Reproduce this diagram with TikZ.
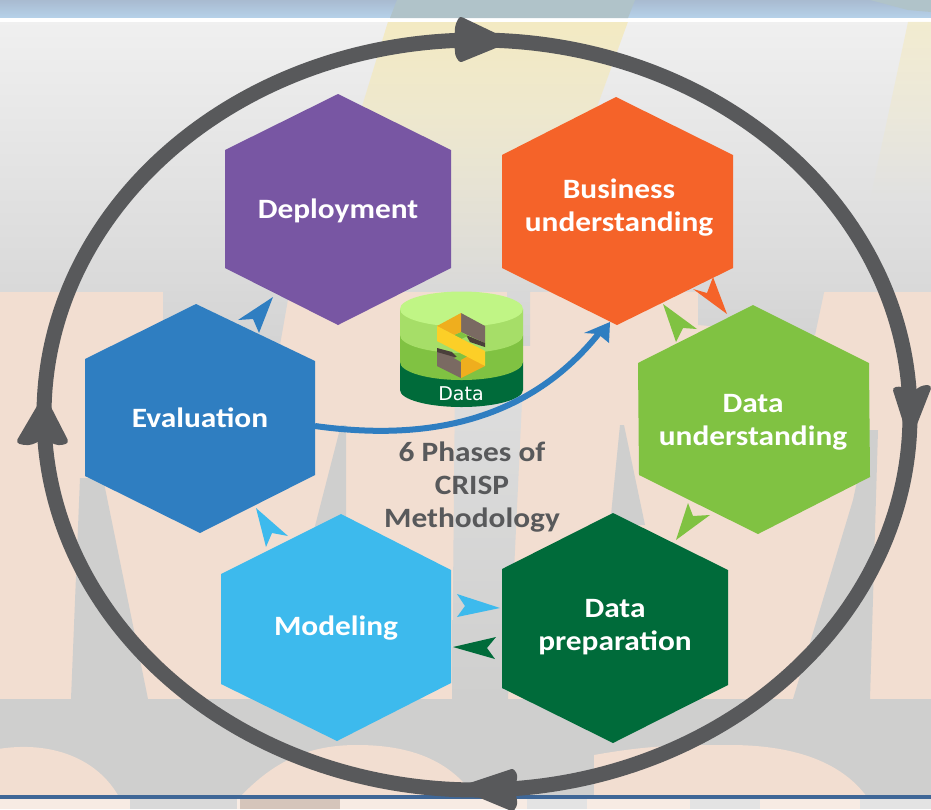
\documentclass[tikz,border=0pt]{standalone}
\usepackage{fontspec}
\setmainfont[FakeStretch=1.12]{Carlito}
\newfontfamily\dbfont{DejaVu Sans}
\usetikzlibrary{fadings}
\definecolor{peach}{HTML}{F2DED1}
\definecolor{bandgray}{HTML}{CFCFCE}
\definecolor{ringgray}{HTML}{58595B}
\definecolor{cDeploy}{HTML}{7856A3}
\definecolor{cBiz}{HTML}{F56329}
\definecolor{cData}{HTML}{80C242}
\definecolor{cPrep}{HTML}{006B3A}
\definecolor{cModel}{HTML}{3DBAED}
\definecolor{cEval}{HTML}{2F7EC1}
\definecolor{cLine}{HTML}{3F6797}
\definecolor{dbTop}{HTML}{C0F585}
\definecolor{dbBand}{HTML}{A6DE68}
\definecolor{logoBrown}{HTML}{7A6A62}
\definecolor{logoDark}{HTML}{4A3F3A}
\definecolor{logoOrange}{HTML}{EFAE1E}
\definecolor{logoYellow}{HTML}{FCCF27}
\definecolor{stripe}{HTML}{F5E8B0}
\definecolor{stripeband}{HTML}{B0C3C9}
\definecolor{patchtan}{HTML}{D5C5BB}
\tikzset{
  hexlabel/.style={text=white,font=\bfseries\fontsize{28}{33}\selectfont,align=center,inner sep=0pt},
  centerlabel/.style={text=ringgray,font=\bfseries\fontsize{28}{33}\selectfont,align=center,inner sep=0pt},
  ringhead/.style={fill=ringgray,draw=ringgray,line width=6pt,line join=round},
  backgray/.style={fill=bandgray},
}
\begin{document}
\begin{tikzpicture}[x=1pt,y=-1pt]
\clip (0,0) rectangle (931,809);
% background
\shade[top color=white!94!black,bottom color=white!85!black] (0,22) rectangle (931,292);
\fill[peach] (0,292) rectangle (931,699);
\fill[bandgray] (0,699) rectangle (931,797);
\shade[top color=white!85!black,bottom color=white!83!black] (163,288) -- (290,288) -- (280,345) -- (163,345) -- cycle;
\shade[top color=white!85!black,bottom color=white!83!black] (507,288) -- (530,288) -- (530,345) -- (507,345) -- cycle;
\shade[top color=white!85!black,bottom color=white!83!black] (698,288) -- (825,288) -- (815,335) -- (698,325) -- cycle;
\shade[top color=white!87!black,bottom color=bandgray] (455,380) -- (523,380) -- (508,699) -- (452,699) -- cycle;
\fill[backgray] (80,478) -- (103,478) -- (148,699) -- (71,699) -- cycle;
\fill[backgray] (341,425) -- (346,425) -- (346,525) -- (314,530) -- cycle;
\fill[backgray] (620,425) -- (624,425) -- (645,525) -- (610,525) -- cycle;
\fill[backgray] (868,430) -- (878,430) -- (870,699) -- (793,699) -- (853,500) -- cycle;
% lower mounds
\fill[peach] (-40,797) -- (-40,760) .. controls (20,735) and (90,745) .. (119,797) -- cycle;
\fill[peach] (240,797) .. controls (275,760) and (310,745) .. (357,745) .. controls (410,745) and (450,760) .. (475,797) -- cycle;
\fill[peach] (594,797) -- (594,755) .. controls (650,745) and (680,745) .. (730,745) .. controls (790,745) and (840,760) .. (867,797) -- cycle;
% top band
\shade[top color=cLine!45!white,bottom color=cEval!35!white] (0,0) rectangle (931,18);
\fill[white] (0,18) rectangle (931,22);
\fill[stripe,path fading=south,opacity=.7] (388,22) -- (628,22) -- (530,292) -- (305,292) -- cycle;
\fill[stripe,path fading=south,opacity=.5] (908,22) -- (931,22) -- (931,200) -- (870,200) -- cycle;
\fill[stripeband] (397,0) -- (635,0) -- (628,18) -- (390,18) -- cycle;
\fill[stripeband] (870,0) -- (931,0) -- (931,12) -- (908,10) -- cycle;
% bottom strip
\fill[peach!60!white] (0,797) rectangle (931,809);
\fill[gray!30!white] (130,797) rectangle (237,809);
\fill[patchtan] (240,797) rectangle (340,809);
\fill[gray!22!white] (527,797) rectangle (587,809);
\fill[gray!22!white] (690,797) rectangle (760,809);
\fill[gray!22!white] (860,797) rectangle (931,809);
\fill[cLine] (0,795) rectangle (931,799);
% ring
\draw[ringgray,line width=15pt] (477,415) ellipse [x radius=433,y radius=375];
\fill[ringhead] (505,41) -- (461,20) .. controls (455,30) and (460,36) .. (456,41) .. controls (460,46) and (455,52) .. (461,59) -- cycle;
\fill[ringhead] (910,434) -- (896,390) .. controls (905,388) and (905,396) .. (910,400) .. controls (915,396) and (918,388) .. (928,388) -- cycle;
\fill[ringhead] (44,400) -- (20,441) .. controls (33,445) and (38,437) .. (44,434) .. controls (50,437) and (55,445) .. (65,441) -- cycle;
\fill[ringhead] (464,788) -- (512,772) .. controls (518,778) and (510,785) .. (512,790) .. controls (510,795) and (518,800) .. (512,808) -- cycle;
% hexagons
\fill[cDeploy] (338,94) -- (451,150) -- (451,268) -- (338,325) -- (225,268) -- (225,150) -- cycle;
\fill[cBiz] (616,97) -- (733,155) -- (733,268) -- (617,325) -- (502,268) -- (502,155) -- cycle;
\fill[cData] (753,305) -- (869,363) -- (870,477) -- (758,534) -- (639,475) -- (638,363) -- cycle;
\fill[cPrep] (613,513) -- (728,570) -- (728,685) -- (613,743) -- (502,688) -- (502,569) -- cycle;
\fill[cModel] (341,514) -- (451,570) -- (451,683) -- (337,741) -- (221,684) -- (221,574) -- cycle;
\fill[cEval] (196,304) -- (315,361) -- (315,475) -- (200,533) -- (85,476) -- (85,359) -- cycle;
% small arrows
\fill[cEval] (273,297) -- (238,320) -- (253,319) -- (259,333) -- cycle;
\fill[cModel] (256,508) -- (288,536) -- (272,533) -- (266,547) -- cycle;
\fill[cData] (663,304) -- (697,329) -- (683,328) -- (676,342) -- cycle;
\fill[cBiz] (727,314) -- (693,289) -- (707,293) -- (713,277) -- cycle;
\fill[cData] (676,540) -- (688,503) -- (693,516) -- (710,515) -- cycle;
\fill[cModel] (500,608) -- (457,594) -- (465,606) -- (457,617) -- cycle;
\fill[cPrep] (453,647) -- (496,637) -- (487,648) -- (495,659) -- cycle;
% database
\fill[cPrep] (400,362) -- (400,390) arc[start angle=180,end angle=0,x radius=61.5,y radius=17] -- (523,362) -- cycle;
\fill[cData] (400,335) -- (400,362) arc[start angle=180,end angle=0,x radius=61.5,y radius=18] -- (523,335) -- cycle;
\fill[dbBand] (400,309) -- (400,335) arc[start angle=180,end angle=0,x radius=61.5,y radius=18] -- (523,309) -- cycle;
\fill[dbTop] (461.5,309) ellipse [x radius=61.5,y radius=17.5];
% logo
\fill[logoBrown] (461,313) -- (485,326) -- (485,343) -- (461,332) -- cycle;
\fill[logoBrown] (437,348) -- (461,360) -- (461,378) -- (437,366) -- cycle;
\fill[logoDark] (466,335) -- (485,343) -- (485,347) -- (470,342) -- cycle;
\fill[logoDark] (437,348) -- (452,352) -- (458,358) -- (437,352) -- cycle;
\fill[cData] (454,335) -- (461,332) -- (468,336) -- (461,339) -- cycle;
\fill[cData] (454,358) -- (461,355) -- (468,359) -- (461,362) -- cycle;
\fill[logoOrange] (437,326) -- (461,313) -- (461,332) -- (454,335) -- cycle;
\fill[logoOrange] (461,378) -- (461,360) -- (468,356) -- (485,366) -- cycle;
\fill[logoYellow] (437,326) -- (485,351) -- (485,366) -- (437,341) -- cycle;
\node[name=dblabel,text=white,font=\dbfont\fontsize{19}{22}\selectfont,inner sep=0pt] at (461,394) {Data};
% curve
\coordinate (evalout) at (315,426);
\coordinate (biztip) at (600,332);
\draw[cEval,line width=6pt] (evalout) .. controls (430,442) and (530,420) .. (biztip);
\fill[cEval] (610,322) -- (584,333) -- (598,334) -- (609,343) -- cycle;
% labels
\node[hexlabel] (deployment) at (338,211) {Deployment};
\node[hexlabel] (business) at (619,208) {Business\\understanding};
\node[hexlabel] (dataund) at (753,422) {Data\\understanding};
\node[hexlabel] (dataprep) at (615,627) {Data\\preparation};
\node[hexlabel] (modeling) at (336,628) {Modeling};
\node[hexlabel] (evaluation) at (200,418) {Evaluation};
\node[centerlabel] (phases) at (472,487) {6 Phases of\\CRISP\\Methodology};
\end{tikzpicture}
\end{document}
